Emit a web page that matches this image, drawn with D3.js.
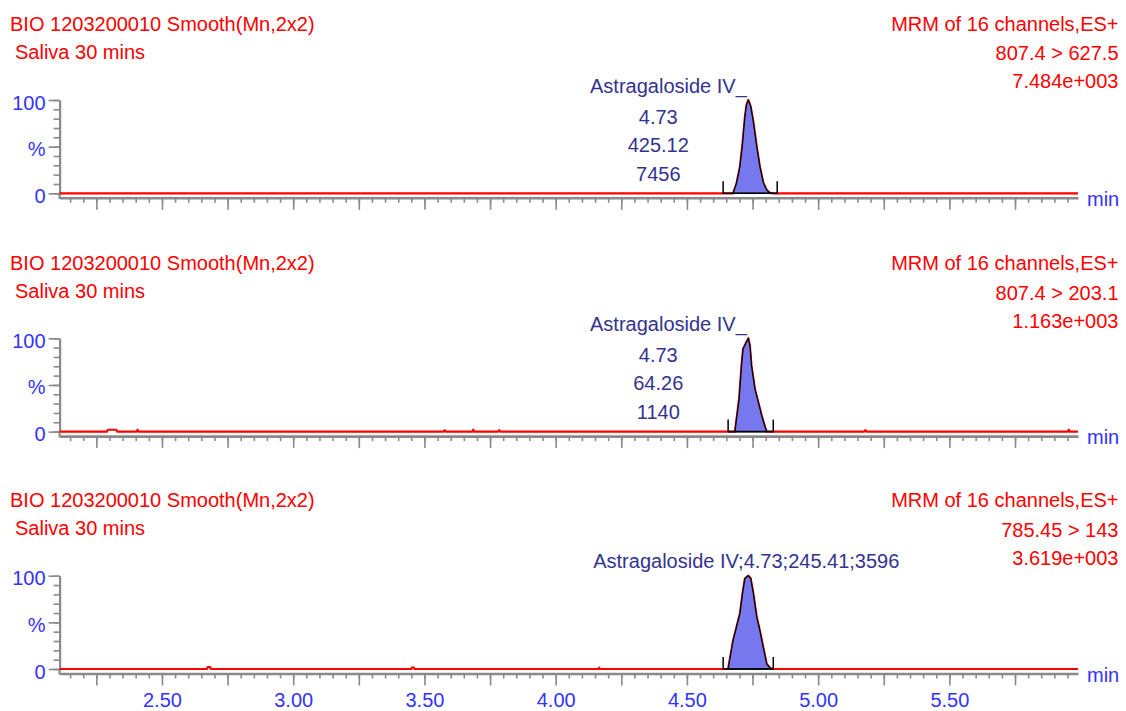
<!DOCTYPE html>
<html><head><meta charset="utf-8">
<script src="https://cdn.jsdelivr.net/npm/d3@7"></script>
<style>
html,body{margin:0;padding:0;background:#fff;}
svg{display:block;font-family:"Liberation Sans",Arial,sans-serif;}
</style></head><body>
<svg id="chart" width="1126" height="711"></svg>
<script>
// ---------------- data ----------------
const runTitles = ["BIO 1203200010 Smooth(Mn,2x2)", "BIO 1203200010 Smooth(Mn,2x2)", "BIO 1203200010 Smooth(Mn,2x2)"];
const sampleNames = ["Saliva 30 mins", "Saliva 30 mins", "Saliva 30 mins"];
const scanInfo = ["MRM of 16 channels,ES+", "MRM of 16 channels,ES+", "MRM of 16 channels,ES+"];
const transitions = ["807.4 > 627.5", "807.4 > 203.1", "785.45 > 143"];
const maxIntensities = ["7.484e+003", "1.163e+003", "3.619e+003"];
const peakNames = ["Astragaloside IV", "Astragaloside IV", "Astragaloside IV"];
const retentionTimes = ["4.73", "4.73", "4.73"];
const peakAreas = ["425.12", "64.26", "245.41"];
const peakHeights = ["7456", "1140", "3596"];
const integrationStart = [4.638, 4.657, 4.638];
const integrationEnd = [4.844, 4.829, 4.829];
const xTickLabels = [2.50, 3.00, 3.50, 4.00, 4.50, 5.00, 5.50];
const yTickLabels = ["0", "%", "100"];

// chromatogram traces: [time (min), relative intensity %]
const trace1 = [[2.11,0],[4.676,0],[4.689,10.7],[4.702,28.5],[4.712,53.6],[4.721,82],[4.727,94.6],[4.734,100],
  [4.743,92.9],[4.753,76.7],[4.766,50],[4.778,28.5],[4.791,11.4],[4.804,3.5],[4.816,0.5],[4.828,0],[5.99,0]];
const trace2 = [[2.11,0],[2.290,0],[2.294,2],[2.326,2],[2.330,0],[2.403,0],[2.407,2],[2.411,0],
  [3.573,0],[3.577,1.5],[3.581,0],[3.682,0],[3.686,2],[3.690,0],[3.781,0],[3.785,1.5],[3.789,0],
  [4.683,0],[4.689,13.5],[4.699,35],[4.708,70.7],[4.714,88.5],[4.725,95],[4.734,100],[4.740,92],
  [4.746,70.7],[4.759,45.7],[4.772,31.4],[4.785,17],[4.798,4.6],[4.804,0],
  [5.176,0],[5.180,1.5],[5.184,0],[5.951,0],[5.955,2],[5.959,0],[5.99,0]];
const trace3 = [[2.11,0],[2.672,0],[2.674,2],[2.684,2],[2.686,0],[3.450,0],[3.452,1.5],[3.460,1.5],[3.462,0],
  [4.164,0],[4.166,1.5],[4.168,0],
  [4.657,0],[4.676,30.6],[4.689,45],[4.702,59.4],[4.712,81],[4.721,97],[4.734,100],[4.743,97],
  [4.753,81],[4.766,55.7],[4.778,41],[4.791,23],[4.804,5.4],[4.817,1],[4.829,0],[5.99,0]];
const traces = [trace1, trace2, trace3];

// ---------------- drawing ----------------
const RED = "#ff0000", BLUE = "#3333ff", NAVY = "#33338f", GRAY = "#8a8a8a", FILL = "#7878ee";
const svg = d3.select("#chart");
svg.append("rect").attr("width",1126).attr("height",711).attr("fill","#fff");

const x = d3.scaleLinear().domain([2.11, 5.99]).range([59.6, 1078]);
const minorTicks = d3.range(43, 120).map(i => i * 5 / 100);
const majorTicks = d3.range(45, 120, 5).map(i => i * 5 / 100);

const plotOffsets = [0, 238.3, 475.7];
const headerOffsets = [0, 239.5, 476.5];

traces.forEach((trace, p) => {
  const off = plotOffsets[p], hoff = headerOffsets[p];
  const g = svg.append("g");
  const y = d3.scaleLinear().domain([0, 100]).range([193.3 + off, 100 + off]);
  const axisY = y(0) + 4.5;

  // headers
  const h = svg.append("g").attr("font-size", 20).attr("fill", RED);
  h.append("text").attr("x", 10).attr("y", 30.7 + hoff).text(runTitles[p]);
  h.append("text").attr("x", 15).attr("y", 58.5 + hoff).text(sampleNames[p]);
  h.append("text").attr("x", 1118.5).attr("y", 30.7 + hoff).attr("text-anchor","end").text(scanInfo[p]);
  h.append("text").attr("x", 1118.5).attr("y", 60 + hoff).attr("text-anchor","end").text(transitions[p]);
  h.append("text").attr("x", 1118.5).attr("y", 88.3 + hoff).attr("text-anchor","end").text(maxIntensities[p]);

  // x axis minor ticks + domain
  const xa = g.append("g").attr("transform", `translate(0,${axisY})`)
    .call(d3.axisBottom(x).tickValues(minorTicks).tickSize(5).tickSizeOuter(0).tickFormat(""));
  xa.select(".domain").attr("stroke", GRAY).attr("stroke-width", 2.6);
  xa.selectAll(".tick line").attr("stroke", GRAY).attr("stroke-width", 1.6);
  const xm = g.append("g").attr("transform", `translate(0,${axisY})`)
    .call(d3.axisBottom(x).tickValues(majorTicks).tickSize(12).tickSizeOuter(0).tickFormat(""));
  xm.select(".domain").remove();
  xm.selectAll(".tick line").attr("stroke", GRAY).attr("stroke-width", 1.6);

  // y axis
  const ya = g.append("g").attr("transform", `translate(59.6,0)`)
    .call(d3.axisLeft(y).tickValues(d3.range(0, 101, 10)).tickSize(6).tickSizeOuter(0).tickFormat(""));
  ya.select(".domain").attr("stroke", GRAY).attr("stroke-width", 2.2);
  ya.selectAll(".tick line").attr("stroke", GRAY).attr("stroke-width", 1.6);
  g.append("line").attr("x1", 59.6).attr("x2", 59.6).attr("y1", y(0)).attr("y2", axisY + 1.3)
    .attr("stroke", GRAY).attr("stroke-width", 2.2);
  const ym = g.append("g").attr("transform", `translate(59.6,0)`)
    .call(d3.axisLeft(y).tickValues([0, 50, 100]).tickSize(11).tickPadding(3)
      .tickFormat((d, i) => yTickLabels[i]));
  ym.select(".domain").remove();
  ym.selectAll(".tick line").attr("stroke", GRAY).attr("stroke-width", 1.6);
  ym.selectAll(".tick text").attr("fill", BLUE).attr("font-size", 20)
    .attr("font-family", "Liberation Sans, Arial, sans-serif").attr("dy", "0.45em");

  // "min" label
  g.append("text").attr("x", 1087).attr("y", axisY + 8.3).attr("font-size", 20).attr("fill", BLUE).text("min");

  // bottom labels
  if (p === 2) {
    const xl = g.append("g").attr("transform", `translate(0,${axisY})`)
      .call(d3.axisBottom(x).tickValues(xTickLabels).tickSize(0).tickPadding(18.8).tickFormat(d3.format(".2f")));
    xl.select(".domain").remove();
    xl.selectAll(".tick text").attr("fill", BLUE).attr("font-size", 20)
      .attr("font-family", "Liberation Sans, Arial, sans-serif");
  }

  // trace
  const line = d3.line().x(d => x(d[0])).y(d => y(d[1]));
  g.append("path").datum(trace).attr("d", line).attr("fill", "none")
    .attr("stroke", RED).attr("stroke-width", 2.2).attr("stroke-linejoin", "round");

  // integrated peak
  const s = integrationStart[p], e = integrationEnd[p];
  const peak = trace.filter(d => d[0] >= s && d[0] <= e);
  const area = d3.area().x(d => x(d[0])).y0(y(0)).y1(d => y(d[1]));
  g.append("path").datum(peak).attr("d", area).attr("fill", FILL)
    .attr("stroke", "#000").attr("stroke-width", 1.3).attr("stroke-linejoin", "round");
  g.append("line").attr("x1", x(s)).attr("x2", x(e)).attr("y1", y(0)).attr("y2", y(0))
    .attr("stroke", "#000").attr("stroke-width", 1.6);
  [s, e].forEach(t => {
    g.append("line").attr("x1", x(t)).attr("x2", x(t)).attr("y1", y(0) + 0.5).attr("y2", y(0) - 12)
      .attr("stroke", "#000").attr("stroke-width", 1.5);
  });

  // peak annotation
  const rtX = x(+retentionTimes[p]);
  const a = g.append("g").attr("font-size", 20).attr("fill", NAVY);
  if (p < 2) {
    a.append("text").attr("x", rtX - 0.5).attr("y", y(100) - 7).attr("text-anchor", "end").text(peakNames[p] + "_");
    [retentionTimes[p], peakAreas[p], peakHeights[p]].forEach((t, i) => {
      a.append("text").attr("x", rtX - 89).attr("y", y(100) + 23.5 + i * 28.6).attr("text-anchor", "middle").text(t);
    });
  } else {
    a.append("text").attr("x", rtX - 1).attr("y", y(100) - 7.4).attr("text-anchor", "middle")
      .text([peakNames[p], retentionTimes[p], peakAreas[p], peakHeights[p]].join(";"));
  }
});
</script>
</body></html>
